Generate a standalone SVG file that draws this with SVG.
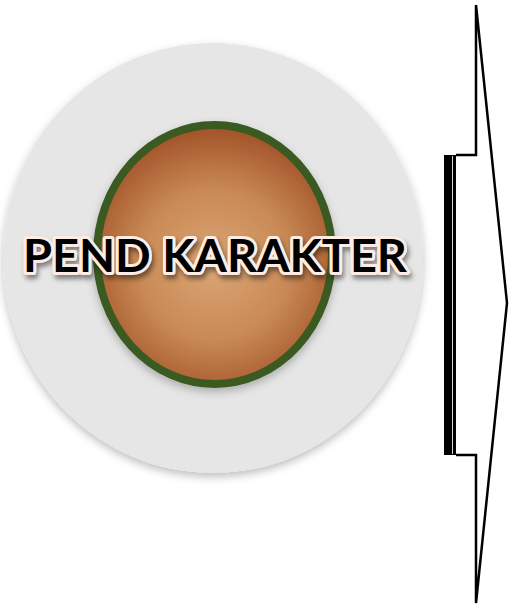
<svg xmlns="http://www.w3.org/2000/svg" width="510" height="606" viewBox="0 0 510 606">
<defs>
<radialGradient id="core" cx="214.5" cy="265" r="135" gradientUnits="userSpaceOnUse">
<stop offset="0" stop-color="#dba676"/>
<stop offset="0.55" stop-color="#c98a56"/>
<stop offset="1" stop-color="#a4552a"/>
</radialGradient>
<filter id="sh" x="-20%" y="-20%" width="140%" height="140%">
<feDropShadow dx="0" dy="4" stdDeviation="4" flood-color="#000" flood-opacity="0.25"/>
</filter>
<filter id="tsh" x="-10%" y="-30%" width="120%" height="160%">
<feDropShadow dx="2" dy="4" stdDeviation="2.5" flood-color="#000" flood-opacity="0.45"/>
</filter>
<style>
.lbl{font-family:"Lato","Open Sans","Liberation Sans",sans-serif;font-weight:bold;font-size:46px;text-anchor:middle}
.arrow{fill:none;stroke:#000;stroke-width:2.5;stroke-linejoin:miter}
</style>
</defs>
<g id="disc">
<ellipse cx="213" cy="258" rx="210" ry="215" fill="#e6e6e6" filter="url(#sh)"/>
</g>
<g id="core-node">
<ellipse cx="214.5" cy="254.5" rx="117.5" ry="129.5" fill="url(#core)" stroke="#3b5a23" stroke-width="8" filter="url(#sh)"/>
</g>
<g id="label">
<text class="lbl" x="215" y="272" textLength="384" lengthAdjust="spacingAndGlyphs" fill="#000" stroke="#fbece4" stroke-width="6" stroke-linejoin="round" filter="url(#tsh)">PEND KARAKTER</text>
<text class="lbl" x="215" y="272" textLength="384" lengthAdjust="spacingAndGlyphs" fill="#000">PEND KARAKTER</text>
</g>
<g id="arrow">
<path class="arrow" d="M476,5 L507,303 L476,603 L476,455 L456,455 M456,155 L476,155 L476,5"/>
<rect x="444" y="155" width="12" height="300" fill="#000"/>
<line x1="452.5" y1="156" x2="452.5" y2="454" stroke="#d8d8d8" stroke-width="1"/>
</g>
</svg>
